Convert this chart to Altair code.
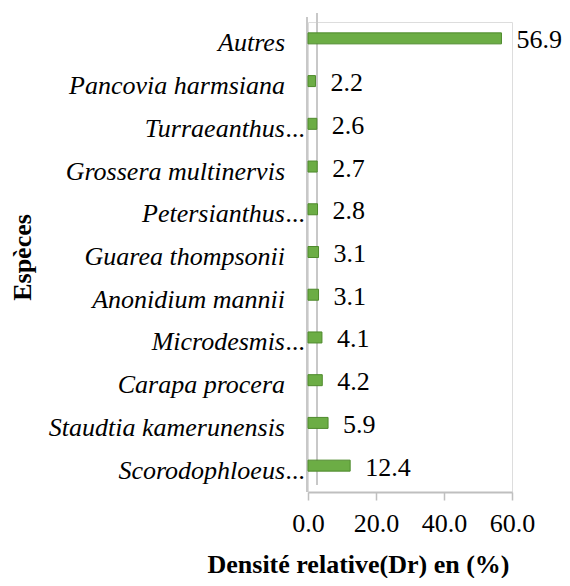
import altair as alt
import pandas as pd

species = ["Autres", "Pancovia harmsiana", "Turraeanthus...", "Grossera multinervis",
           "Petersianthus...", "Guarea thompsonii", "Anonidium mannii", "Microdesmis...",
           "Carapa procera", "Staudtia kamerunensis", "Scorodophloeus..."]
values = [56.9, 2.2, 2.6, 2.7, 2.8, 3.1, 3.1, 4.1, 4.2, 5.9, 12.4]
x_ticks = [0, 20, 40, 60]

df = pd.DataFrame({
    "sp": species,
    "v": values,
    "lab": [f"{v:.1f}" for v in values],
    "base": [s[:-3] if s.endswith("...") else s for s in species],
    "dots": ["..." if s.endswith("...") else "" for s in species],
})

FONT = "Liberation Serif, Times New Roman, serif"
FS = 26
W, H = 204, 470
LEFT = 300  # plot left edge at 308 on the page

y_enc = alt.Y("sp:N", sort=species,
              scale=alt.Scale(paddingInner=0, paddingOuter=0),
              axis=alt.Axis(title="Espèces", titleFont=FONT, titleFontSize=FS, titleFontWeight="bold",
                            titleAngle=270, titleX=22 - (LEFT + 8), titleY=H / 2, titleAlign="center",
                            titleBaseline="middle", titleColor="black",
                            labels=False, ticks=False, domain=False, grid=False))

x_enc = alt.X("v:Q", scale=alt.Scale(domain=[0, 60], nice=False),
              axis=alt.Axis(values=x_ticks, format=".1f", title="Densité relative(Dr) en (%)",
                            titleFont=FONT, titleFontSize=FS, titleFontWeight="bold", titleColor="black",
                            titleX=50, titleY=72, titleAlign="center", titleBaseline="middle",
                            labelFont=FONT, labelFontSize=FS, labelColor="black", labelFlush=False,
                            labelPadding=10, tickSize=8, tickColor="#BFBFBF", tickWidth=1.5,
                            domainColor="#BFBFBF", domainWidth=2, grid=False))

y_plain = alt.Y("sp:N", sort=species)

wall1 = alt.Chart(df).mark_rule(color="#C8C8C8", strokeWidth=2).encode(
    x=alt.value(-1), y=alt.value(-5), y2=alt.value(H))
wall2 = alt.Chart(df).mark_rule(color="#C8C8C8", strokeWidth=2).encode(
    x=alt.value(9), y=alt.value(-9), y2=alt.value(H - 7))

bars = alt.Chart(df).mark_bar(size=11, yOffset=-5, color="#6CAD45", stroke="#4E8A2C",
                              strokeWidth=1).encode(x=x_enc, y=y_enc)
texts = alt.Chart(df).mark_text(align="left", baseline="middle", dx=15, dy=-3,
                                font=FONT, fontSize=FS, color="black").encode(
    x="v:Q", y=y_plain, text="lab:N")

names = alt.Chart(df).mark_text(align="right", baseline="middle", font=FONT, fontSize=FS,
                                fontStyle="italic", color="black").encode(
    x=alt.value(-23), y=y_plain, text="base:N")
dots = alt.Chart(df).mark_text(align="left", baseline="middle", font=FONT, fontSize=FS,
                               fontStyle="italic", color="black").encode(
    x=alt.value(-22), y=y_plain, text="dots:N")

chart = alt.layer(wall1, wall2, bars, texts, names, dots).properties(
    width=W, height=H,
    autosize=alt.AutoSizeParams(type="none"),
    padding={"left": LEFT, "top": 14, "right": 554 - LEFT - W, "bottom": 86},
).configure_view(stroke=None).configure(background="white", font=FONT)

chart.save("out.html", embed_options={"renderer": "svg", "actions": False})
